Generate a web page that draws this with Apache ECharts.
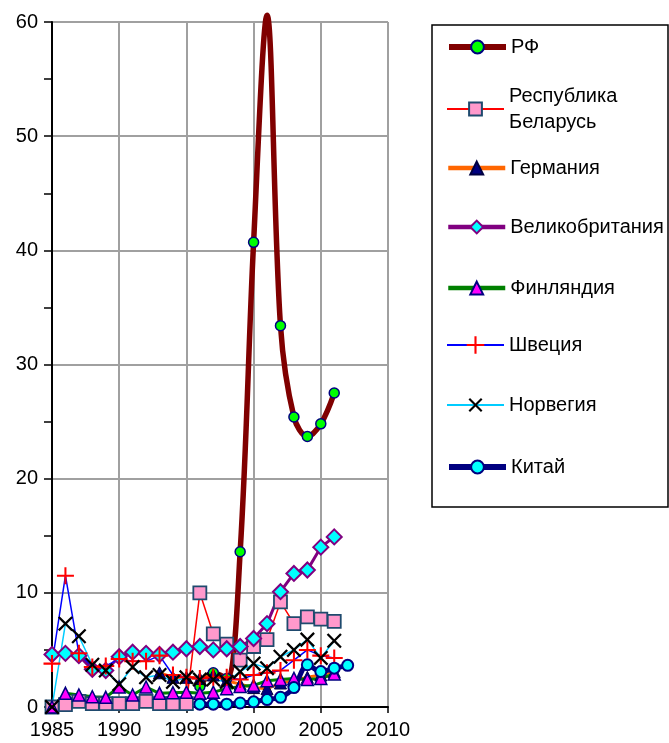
<!DOCTYPE html>
<html>
<head>
<meta charset="utf-8">
<script src="https://cdn.jsdelivr.net/npm/echarts@6/dist/echarts.min.js"></script>
<style>
html,body{margin:0;padding:0;background:#fff;}
#chart{width:669px;height:743px;}
</style>
</head>
<body>
<div id="chart"></div>
<script>
const years = [1985,1986,1987,1988,1989,1990,1991,1992,1993,1994,1995,1996,1997,1998,1999,2000,2001,2002,2003,2004,2005,2006,2007];
const rf      = [null,null,null,null,null,null,null,null,null,null,null,1.8,3.0,2.5,13.6,40.7,60.6,33.4,25.4,23.7,24.8,27.5,null];
const belarus = [0,0.2,0.5,0.3,0.3,0.3,0.3,0.5,0.3,0.3,0.3,10.0,6.4,5.5,4.1,5.3,5.9,9.2,7.3,7.9,7.7,7.5,null];
const germany = [null,null,null,null,null,null,null,null,3.0,2.6,2.6,2.5,2.8,2.3,2.0,1.7,1.6,2.1,2.3,2.6,2.8,3.1,null];
const uk      = [4.6,4.7,4.5,3.3,3.2,4.4,4.8,4.7,4.6,4.8,5.1,5.3,5.0,5.1,5.3,6.0,7.3,10.1,11.7,12.0,14.0,14.9,null];
const finland = [0,1.2,1.05,0.9,0.85,1.75,1.05,1.75,1.2,1.25,1.3,1.2,1.3,1.6,1.8,1.9,2.3,2.4,2.5,2.4,2.5,2.9,null];
const sweden  = [3.8,11.5,4.7,3.5,3.6,4.2,4.0,4.0,4.5,2.8,2.6,2.5,2.6,2.6,2.4,2.8,3.0,3.2,4.1,5.0,4.5,4.3,null];
const norway  = [0,7.3,6.2,3.7,3.2,2.0,3.5,2.6,2.8,2.2,2.6,2.4,2.4,2.2,3.1,3.8,3.4,4.4,5.0,5.9,4.3,5.8,null];
const china   = [null,null,null,null,null,null,null,null,null,null,null,0.25,0.25,0.25,0.35,0.45,0.65,0.85,1.7,3.7,3.1,3.4,3.65];
const names = ['РФ','Республика Беларусь','Германия','Великобритания','Финляндия','Швеция','Норвегия','Китай'];
const xTicks = [1985,1990,1995,2000,2005,2010];
const yTicks = [0,10,20,30,40,50,60];
const Y_MAX = 60;

function pairs(arr){
  const out=[];
  years.forEach((y,i)=>{
    if(arr[i]===null) return;
    out.push(arr[i] > Y_MAX ? {value:[y,arr[i]], symbolSize:0} : [y,arr[i]]);
  });
  return out;
}

const plusPath = 'path://M8.8,0H11.2V8.8H20V11.2H11.2V20H8.8V11.2H0V8.8H8.8Z';
const FONT = 'Liberation Sans, Arial, sans-serif';

const seriesDefs = [
  {name:names[0], data:pairs(rf), smooth:0.35, lineStyle:{color:'#800000',width:5.5}, symbol:'circle', symbolSize:10,
   itemStyle:{color:'#00ff00',borderColor:'#000080',borderWidth:1.5}},
  {name:names[1], data:pairs(belarus), lineStyle:{color:'#ff0000',width:1.5}, symbol:'rect', symbolSize:13,
   itemStyle:{color:'#ff99cc',borderColor:'#1f4a6e',borderWidth:1.8}},
  {name:names[2], data:pairs(germany), lineStyle:{color:'#ff6600',width:3}, symbol:'triangle', symbolSize:12,
   itemStyle:{color:'#000080',borderColor:'#000040',borderWidth:1}},
  {name:names[3], data:pairs(uk), lineStyle:{color:'#800080',width:3}, symbol:'diamond', symbolSize:15,
   itemStyle:{color:'#00ffff',borderColor:'#800080',borderWidth:2}},
  {name:names[4], data:pairs(finland), lineStyle:{color:'#008000',width:3}, symbol:'triangle', symbolSize:12,
   itemStyle:{color:'#ff00ff',borderColor:'#000080',borderWidth:1.5}},
  {name:names[5], data:pairs(sweden), lineStyle:{color:'#0000ff',width:1.5}, symbol:plusPath, symbolSize:17,
   itemStyle:{color:'#ff0000',borderWidth:0}},
  {name:names[6], data:pairs(norway), lineStyle:{color:'#00ccff',width:1.5}, symbol:plusPath, symbolSize:19, symbolRotate:45,
   itemStyle:{color:'#000000',borderWidth:0}},
  {name:names[7], data:pairs(china), smooth:0.3, lineStyle:{color:'#000080',width:5}, symbol:'circle', symbolSize:11,
   itemStyle:{color:'#00ffff',borderColor:'#000080',borderWidth:2}}
];
const series = seriesDefs.map(s => Object.assign({type:'line', showAllSymbol:true, clip:false, connectNulls:false, emphasis:{disabled:true}}, s));

const legendCenters = [42,104,163,222,283,343,403,462];
const legendLineW = [6,2,4.5,4.5,4.5,2,2,6];
const legendItemH = [16,16,16,16,16,22,22,16];
const legends = names.map((n,i) => {
  const isBy = i===1;
  const h = legendItemH[i];
  return {
    data:[n], left:446, top: legendCenters[i]-h/2 - (isBy?26:0), orient:'vertical',
    itemWidth:57, itemHeight:h, itemGap:0, padding:0, selectedMode:false,
    lineStyle:{width:legendLineW[i]},
    formatter: isBy ? 'Республика\nБеларусь' : '{name}',
    textStyle:{fontFamily:FONT, fontSize:20, color:'#000', lineHeight:26, padding: isBy?[26,0,0,0]:0}
  };
});

const chart = echarts.init(document.getElementById('chart'), null, {renderer:'canvas'});
chart.setOption({
  animation:false,
  backgroundColor:'#fff',
  grid:{left:52, right:281, top:22, bottom:36, containLabel:false},
  xAxis:{type:'value', min:1985, max:2010, interval:5,
    axisLine:{onZero:false, lineStyle:{color:'#000',width:2}},
    axisTick:{show:true, length:6, lineStyle:{color:'#000',width:1.5}},
    axisLabel:{fontFamily:FONT, fontSize:20, color:'#000', margin:13, formatter:v=> xTicks.includes(v)? String(v):''},
    splitLine:{show:true, lineStyle:{color:'#a0a0a0', width:2}}},
  yAxis:{type:'value', min:0, max:Y_MAX, interval:10,
    axisLine:{show:true, lineStyle:{color:'#000',width:2}},
    axisTick:{show:true, length:8, lineStyle:{color:'#000',width:1.5}},
    minorTick:{show:true, splitNumber:2, length:8, lineStyle:{color:'#000',width:1.5}},
    axisLabel:{fontFamily:FONT, fontSize:20, color:'#000', margin:14, formatter:v=> yTicks.includes(v)? String(v):''},
    splitLine:{show:true, lineStyle:{color:'#a0a0a0', width:2}}},
  legend: legends,
  graphic:[{type:'rect', shape:{x:432, y:25, width:236, height:482}, style:{fill:'none', stroke:'#000', lineWidth:1.5}, z:-1}],
  series: series
});
</script>
</body>
</html>
